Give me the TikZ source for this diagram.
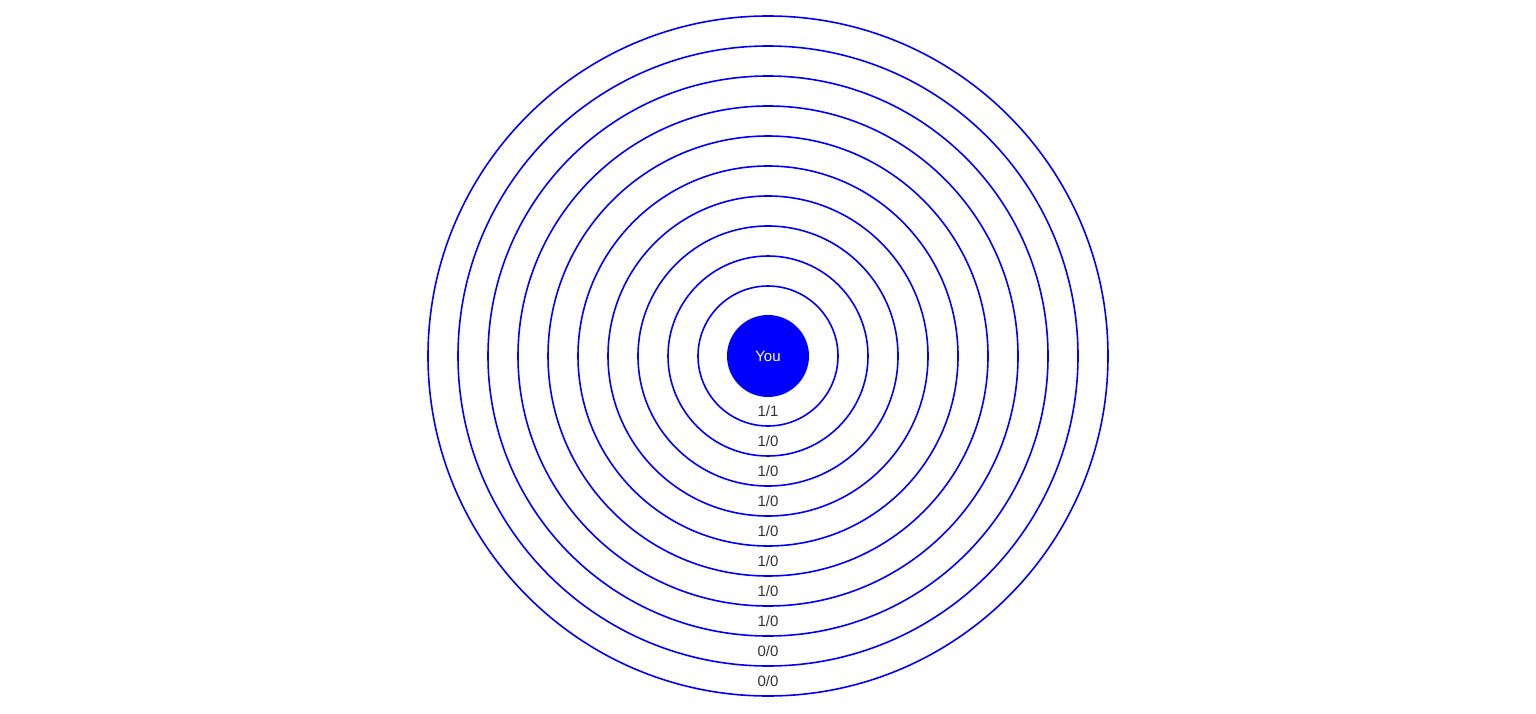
\documentclass[tikz,border=0pt]{standalone}
\usepackage{fontspec}
\setmainfont{Liberation Sans}
\usetikzlibrary{positioning, calc}
\definecolor{ringblue}{RGB}{0,0,255}
\definecolor{labelgray}{RGB}{51,51,51}
\tikzset{
  ring/.style={draw=ringblue, line width=1.6pt},
  ringlabel/.style={font=\fontsize{15}{17}\selectfont, text=labelgray, inner sep=0pt}
}

\begin{document}
\begin{tikzpicture}[x=1pt, y=1pt]
\useasboundingbox (0,0) rectangle (1536,-714);
\coordinate (c) at (768,-356);

% Rings
\foreach \i in {1,...,10}
  \draw[ring] (c) circle ({40+30*\i});

% Centre
\node[circle, fill=ringblue, minimum size=82pt, inner sep=0pt,
      text=white, font=\fontsize{15}{17}\selectfont] (you) at (c) {You};

% Ring labels
\foreach \i/\v in {1/1\slash 1, 2/1\slash 0, 3/1\slash 0, 4/1\slash 0, 5/1\slash 0,
                   6/1\slash 0, 7/1\slash 0, 8/1\slash 0, 9/0\slash 0, 10/0\slash 0}
  \node[ringlabel] (lbl\i) at ($(c)+(0,{-25-30*\i})$) {\v};
\end{tikzpicture}
\end{document}
